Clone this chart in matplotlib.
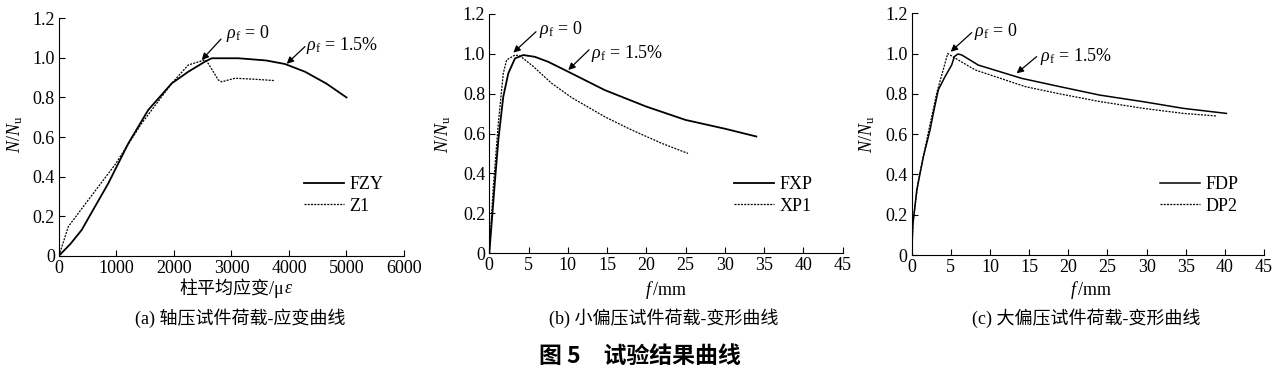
"""图 5 试验结果曲线 - three load curves."""
import matplotlib
matplotlib.use('Agg')
import matplotlib.pyplot as plt

plt.rcParams['font.family'] = ['Liberation Serif', 'Noto Sans CJK SC']
plt.rcParams['mathtext.fontset'] = 'custom'
plt.rcParams['mathtext.rm'] = 'Liberation Serif'
plt.rcParams['mathtext.it'] = 'Liberation Serif:italic'

# (a) axial: strain (με) vs N/Nu
fzy_x = [0, 200, 394, 600, 858, 1206, 1553, 1960, 2249, 2539, 2655, 3119, 3600, 3930,
         4278, 4650, 5000]
fzy_y = [0, 0.06, 0.13, 0.235, 0.366, 0.568, 0.737, 0.871, 0.93, 0.981, 0.998, 0.998,
         0.987, 0.969, 0.93, 0.87, 0.80]
z1_x = [0, 162, 510, 974, 1438, 1960, 2249, 2540, 2600, 2771, 2829, 3061, 3400, 3757]
z1_y = [0, 0.147, 0.282, 0.46, 0.669, 0.871, 0.964, 0.99, 0.97, 0.888, 0.879, 0.897, 0.892,
        0.885]

# (b) small eccentricity: f (mm) vs N/Nu
fxp_x = [0, 0.73, 1.15, 1.78, 2.42, 3.27, 4.33, 5.8, 7.5, 10.06, 14.7, 20, 25, 30, 34]
fxp_y = [0, 0.366, 0.567, 0.785, 0.902, 0.977, 0.994, 0.985, 0.96, 0.91, 0.818,
         0.735, 0.668, 0.624, 0.585]
xp1_x = [0, 0.51, 1.15, 1.78, 2.2, 3.27, 3.9, 5.5, 7.94, 10.5, 14.7, 18, 22, 25.3]
xp1_y = [0, 0.333, 0.651, 0.902, 0.969, 0.994, 0.99, 0.94, 0.852, 0.78, 0.684, 0.62,
         0.55, 0.50]

# (c) large eccentricity
fdp_x = [0, 0.15, 0.64, 1.49, 2.34, 2.76, 3.4, 4.25, 5.1, 5.45, 5.9, 6.4, 8.5, 14.05,
         18.9, 24, 29.6, 34.7, 40.2]
fdp_y = [0, 0.15, 0.32, 0.488, 0.62, 0.703, 0.82, 0.885, 0.943, 0.985, 0.998, 0.993,
         0.943, 0.877, 0.836, 0.794, 0.761, 0.728, 0.703]
dp2_x = [0, 0.15, 0.85, 2.1, 3.19, 4.6, 5.96, 8.1, 14.5, 18.9, 24, 29.6, 34.7, 39.0]
dp2_y = [0, 0.16, 0.37, 0.604, 0.803, 1.0, 0.968, 0.919, 0.836, 0.80, 0.762, 0.728,
         0.703, 0.69]

W, H = 1283, 371
FS = 13
DOT = (0, (1.6, 1.0))


def box(l, r, t, b):
    return [l / W, 1 - b / H, (r - l) / W, (b - t) / H]


def style(ax, xmax, xstep):
    for s in ('top', 'right'):
        ax.spines[s].set_visible(False)
    ax.set_ylim(0, 1.2)
    ax.set_xlim(0, xmax)
    ax.set_yticks([0, 0.2, 0.4, 0.6, 0.8, 1.0, 1.2])
    ax.set_yticklabels(['0', '0.2', '0.4', '0.6', '0.8', '1.0', '1.2'])
    ax.set_xticks(range(0, xmax + 1, xstep))
    ax.tick_params(direction='in', length=4, labelsize=FS, pad=3)


def mark(ax, tip, tail, txt, pos):
    ax.annotate('', xy=tip, xytext=tail,
                arrowprops=dict(arrowstyle='-|>', color='k', lw=0.9,
                                mutation_scale=10, shrinkA=0, shrinkB=0))
    ax.text(pos[0], pos[1], txt, fontsize=FS, va='center', ha='left')


fig = plt.figure(figsize=(W / 100, H / 100), dpi=100)

ax1 = fig.add_axes(box(59, 404, 18.3, 255.7))
ax1.plot(fzy_x, fzy_y, color='k', lw=1.3, label='FZY')
ax1.plot(z1_x, z1_y, color='k', lw=0.9, ls=DOT, label='Z1')
style(ax1, 6000, 1000)
mark(ax1, (2482, 0.989), (2817, 1.095), r'$\rho_{\mathrm{f}}\,=\,0$', (2900, 1.125))
mark(ax1, (3960, 0.97), (4278, 1.057), r'$\rho_{\mathrm{f}}\,=\,1.5\%$', (4300, 1.065))

ax2 = fig.add_axes(box(489.3, 842.7, 14, 253))
ax2.plot(fxp_x, fxp_y, color='k', lw=1.3, label='FXP')
ax2.plot(xp1_x, xp1_y, color='k', lw=0.9, ls=DOT, label='XP1')
style(ax2, 45, 5)
mark(ax2, (3.06, 1.006), (5.95, 1.111), r'$\rho_{\mathrm{f}}\,=\,0$', (6.3, 1.12))
mark(ax2, (10.06, 0.919), (12.7, 1.02), r'$\rho_{\mathrm{f}}\,=\,1.5\%$', (13.0, 1.0))

ax3 = fig.add_axes(box(911.7, 1264, 13.3, 255))
ax3.plot(fdp_x, fdp_y, color='k', lw=1.1, label='FDP')
ax3.plot(dp2_x, dp2_y, color='k', lw=0.9, ls=DOT, label='DP2')
style(ax3, 45, 5)
mark(ax3, (4.98, 1.009), (7.66, 1.104), r'$\rho_{\mathrm{f}}\,=\,0$', (7.95, 1.11))
mark(ax3, (13.4, 0.902), (15.96, 0.985), r'$\rho_{\mathrm{f}}\,=\,1.5\%$', (16.4, 0.985))

for ax, lx in ((ax1, 304), (ax2, 734), (ax3, 1160)):
    bb = ax.get_position()
    ax.legend(loc='upper left', frameon=False, fontsize=FS, handlelength=2.2,
              handletextpad=0.3, labelspacing=0.25, borderaxespad=0, borderpad=0,
              bbox_to_anchor=((lx / W - bb.x0) / bb.width,
                              ((1 - 176 / H) - bb.y0) / bb.height))

# y labels
for x in (15, 443.3, 866.7):
    fig.text(x / W, 1 - 134 / H, r'$N/N_{\mathrm{u}}$', rotation=90, fontsize=FS,
             ha='center', va='center')

# x labels
fig.text(284 / W, 1 - 288.3 / H, '柱平均应变/μ', fontsize=FS, ha='right', va='center')
fig.text(284 / W, 1 - 288.3 / H, r'$\varepsilon$', fontsize=FS, ha='left', va='center')
fig.text(665.8 / W, 1 - 290 / H, r'$f\,$/mm', fontsize=FS, ha='center', va='center')
fig.text(1090.8 / W, 1 - 290 / H, r'$f\,$/mm', fontsize=FS, ha='center', va='center')

# captions
fig.text(240 / W, 1 - 318.3 / H, '(a) 轴压试件荷载-应变曲线', fontsize=FS,
         ha='center', va='center')
fig.text(663.3 / W, 1 - 318.3 / H, '(b) 小偏压试件荷载-变形曲线', fontsize=FS,
         ha='center', va='center')
fig.text(1085.8 / W, 1 - 318.3 / H, '(c) 大偏压试件荷载-变形曲线', fontsize=FS,
         ha='center', va='center')
fig.text(640 / W, 1 - 356 / H, '图 5\u3000试验结果曲线', fontsize=16.5, fontweight='bold',
         ha='center', va='center', family=['Noto Sans CJK SC'])

fig.savefig('out.png', dpi=100)
